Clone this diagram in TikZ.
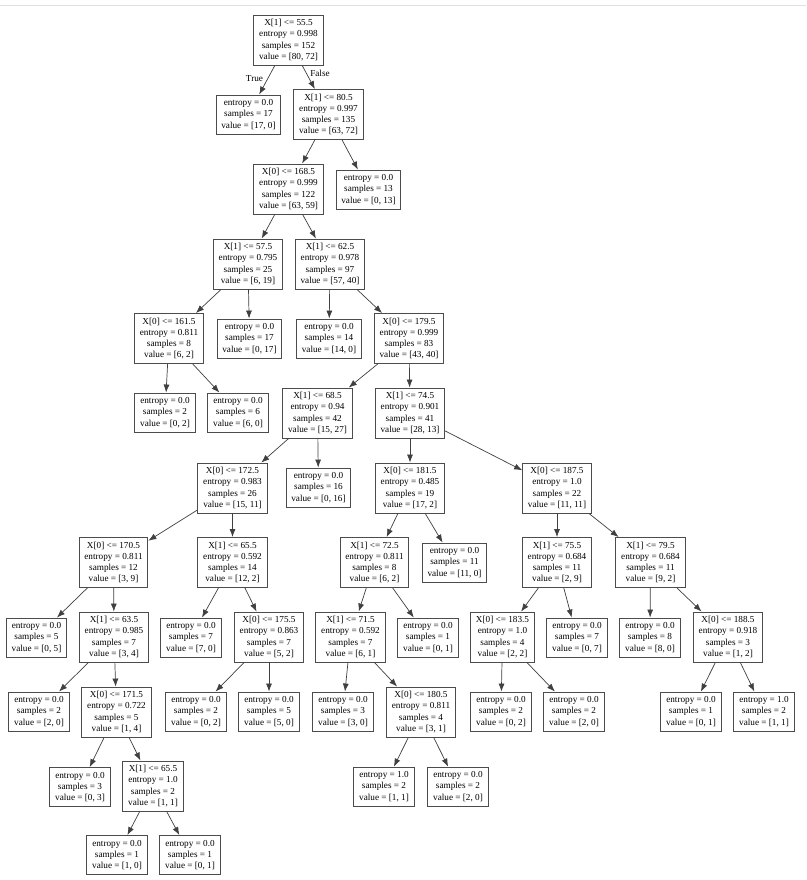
\documentclass[tikz,border=0pt]{standalone}
\usepackage{fontspec}
\setmainfont{Liberation Serif}
\usetikzlibrary{arrows.meta}
\newcommand\spl[5]{X[#1] <= #2\\entropy = #3\\samples = #4\\value = [#5]}
\newcommand\lf[3]{entropy = #1\\samples = #2\\value = [#3]}
\begin{document}
\begin{tikzpicture}[x=1pt,y=-1pt,
 tn/.style={draw=black!70, line width=0.9pt, fill=white, align=center, font=\fontsize{9.2}{11.3}\selectfont, inner xsep=5.3pt, inner ysep=2pt},
 inn/.style={tn, minimum height=50pt},
 leaf/.style={tn, minimum height=39pt},
 edg/.style={draw=black!75, line width=0.7pt, -{Latex[length=8pt,width=6pt]}},
 elab/.style={font=\fontsize{9.2}{11}\selectfont, inner sep=0pt}]
\useasboundingbox (0,0) rectangle (806,880);
\fill[white] (0,0) rectangle (806,880);
\draw[black!12, line width=0.8pt] (0,5) -- (806,5);

\node[inn] (n0) at (288.5,40) {\spl{1}{55.5}{0.998}{152}{80, 72}};
\node[leaf] (l1) at (248.5,114.5) {\lf{0.0}{17}{17, 0}};
\node[inn] (n2) at (328.5,114.5) {\spl{1}{80.5}{0.997}{135}{63, 72}};
\node[inn] (n3) at (288.5,189) {\spl{0}{168.5}{0.999}{122}{63, 59}};
\node[leaf] (l4) at (368.5,189.5) {\lf{0.0}{13}{0, 13}};
\node[inn] (n5) at (248,264) {\spl{1}{57.5}{0.795}{25}{6, 19}};
\node[inn] (n6) at (330,264) {\spl{1}{62.5}{0.978}{97}{57, 40}};
\node[inn] (n7) at (169,338.5) {\spl{0}{161.5}{0.811}{8}{6, 2}};
\node[leaf] (l8) at (249.5,338.5) {\lf{0.0}{17}{0, 17}};
\node[leaf] (l9) at (329,338.5) {\lf{0.0}{14}{14, 0}};
\node[inn] (n10) at (409,338.5) {\spl{0}{179.5}{0.999}{83}{43, 40}};
\node[leaf] (l11) at (165,412.5) {\lf{0.0}{2}{0, 2}};
\node[leaf] (l12) at (238,412.5) {\lf{0.0}{6}{6, 0}};
\node[inn] (n13) at (317.5,413) {\spl{1}{68.5}{0.94}{42}{15, 27}};
\node[inn] (n14) at (410,413) {\spl{1}{74.5}{0.901}{41}{28, 13}};
\node[inn] (n15) at (232.5,488) {\spl{0}{172.5}{0.983}{26}{15, 11}};
\node[leaf] (l16) at (318.5,487.5) {\lf{0.0}{16}{0, 16}};
\node[inn] (n17) at (410,488) {\spl{0}{181.5}{0.485}{19}{17, 2}};
\node[inn] (n18) at (557,488) {\spl{0}{187.5}{1.0}{22}{11, 11}};
\node[inn] (n19) at (113.5,562.5) {\spl{0}{170.5}{0.811}{12}{3, 9}};
\node[inn] (n20) at (232.5,562.5) {\spl{1}{65.5}{0.592}{14}{12, 2}};
\node[inn] (n21) at (374.5,562.5) {\spl{1}{72.5}{0.811}{8}{6, 2}};
\node[leaf] (l22) at (454.5,562.5) {\lf{0.0}{11}{11, 0}};
\node[inn] (n23) at (557,562.5) {\spl{1}{75.5}{0.684}{11}{2, 9}};
\node[inn] (n24) at (650.5,562.5) {\spl{1}{79.5}{0.684}{11}{9, 2}};
\node[leaf] (l25) at (36.5,637.5) {\lf{0.0}{5}{0, 5}};
\node[inn] (n26) at (114,637) {\spl{1}{63.5}{0.985}{7}{3, 4}};
\node[leaf] (l27) at (191,637.5) {\lf{0.0}{7}{7, 0}};
\node[inn] (n28) at (269,637) {\spl{0}{175.5}{0.863}{7}{5, 2}};
\node[inn] (n29) at (350.5,637) {\spl{1}{71.5}{0.592}{7}{6, 1}};
\node[leaf] (l30) at (428,637.5) {\lf{0.0}{1}{0, 1}};
\node[inn] (n31) at (502.5,637) {\spl{0}{183.5}{1.0}{4}{2, 2}};
\node[leaf] (l32) at (577,637.5) {\lf{0.0}{7}{0, 7}};
\node[leaf] (l33) at (650,637.5) {\lf{0.0}{8}{8, 0}};
\node[inn] (n34) at (728,637) {\spl{0}{188.5}{0.918}{3}{1, 2}};
\node[leaf] (l35) at (39,711.5) {\lf{0.0}{2}{2, 0}};
\node[inn] (n36) at (116.5,712) {\spl{0}{171.5}{0.722}{5}{1, 4}};
\node[leaf] (l37) at (196,711.5) {\lf{0.0}{2}{0, 2}};
\node[leaf] (l38) at (269,711.5) {\lf{0.0}{5}{5, 0}};
\node[leaf] (l39) at (343,711.5) {\lf{0.0}{3}{3, 0}};
\node[inn] (n40) at (421,712) {\spl{0}{180.5}{0.811}{4}{3, 1}};
\node[leaf] (l41) at (501,711.5) {\lf{0.0}{2}{0, 2}};
\node[leaf] (l42) at (574,711.5) {\lf{0.0}{2}{2, 0}};
\node[leaf] (l43) at (691,711.5) {\lf{0.0}{1}{0, 1}};
\node[leaf] (l44) at (764,711.5) {\lf{1.0}{2}{1, 1}};
\node[leaf] (l45) at (80,787) {\lf{0.0}{3}{0, 3}};
\node[inn] (n46) at (153,786) {\spl{1}{65.5}{1.0}{2}{1, 1}};
\node[leaf] (l47) at (384,786.5) {\lf{1.0}{2}{1, 1}};
\node[leaf] (l48) at (458,786.5) {\lf{0.0}{2}{2, 0}};
\node[leaf] (l49) at (117,855) {\lf{0.0}{1}{1, 0}};
\node[leaf] (l50) at (190,855) {\lf{0.0}{1}{0, 1}};

\node[elab] (tlab) at (254.5,79) {True};
\node[elab] (flab) at (320,73) {False};

\foreach \a/\b in {n0/l1,n0/n2,n2/n3,n2/l4,n3/n5,n3/n6,n5/n7,n5/l8,n6/l9,n6/n10,
 n7/l11,n7/l12,n10/n13,n10/n14,n13/n15,n13/l16,n14/n17,n14/n18,n15/n19,n15/n20,
 n17/n21,n17/l22,n18/n23,n18/n24,n19/l25,n19/n26,n20/l27,n20/n28,n21/n29,n21/l30,
 n23/n31,n23/l32,n24/l33,n24/n34,n26/l35,n26/n36,n28/l37,n28/l38,n29/l39,n29/n40,
 n31/l41,n31/l42,n34/l43,n34/l44,n36/l45,n36/n46,n40/l47,n40/l48,n46/l49,n46/l50}
  \draw[edg] (\a) -- (\b);
\end{tikzpicture}
\end{document}
